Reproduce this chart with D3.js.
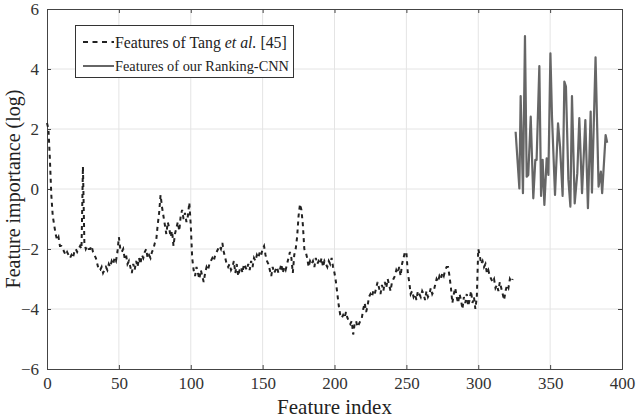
<!DOCTYPE html>
<html><head><meta charset="utf-8">
<script src="https://cdn.jsdelivr.net/npm/d3@7"></script>
<style>body{margin:0;background:#fff}svg{display:block}</style>
</head><body>
<script>
// Tang et al. feature importance (log), index 0..324
const tangValues = [
 2.2, 2.0, 1.0,-0.2,-0.9,-1.2,-1.5,-1.7,-1.6,-1.9,
-1.9,-2.0,-2.1,-2.2,-2.1,-2.2,-2.3,-2.2,-2.3,-2.1,
-2.0,-2.1,-2.0,-1.9,-2.0, 0.75,-1.8,-2.0,-1.9,-2.0,
-2.0,-1.9,-2.1,-2.2,-2.3,-2.5,-2.7,-2.7,-2.6,-2.8,
-2.7,-2.6,-2.7,-2.5,-2.6,-2.4,-2.5,-2.3,-2.4,-2.1,
-1.6,-2.0,-2.1,-2.0,-2.3,-2.2,-2.5,-2.4,-2.6,-2.8,
-2.5,-2.7,-2.4,-2.6,-2.3,-2.5,-2.2,-2.3,-2.1,-2.0,
-2.3,-2.2,-2.3,-2.1,-2.0,-1.8,-1.7,-1.2,-0.8,-0.2,
-0.6,-0.9,-1.2,-1.5,-1.1,-1.3,-1.6,-1.4,-1.9,-1.5,
-1.3,-1.1,-1.4,-0.9,-0.7,-1.0,-0.8,-1.1,-0.9,-0.45,
-1.2,-2.3,-2.7,-2.9,-2.6,-2.8,-3.0,-2.7,-2.9,-3.1,
-2.8,-2.6,-2.7,-2.5,-2.4,-2.3,-2.4,-2.2,-2.1,-2.0,
-1.9,-2.0,-1.8,-2.1,-2.3,-2.5,-2.6,-2.5,-2.7,-2.6,
-2.4,-2.8,-2.5,-2.9,-2.7,-2.6,-2.8,-2.5,-2.6,-2.7,
-2.5,-2.7,-2.4,-2.6,-2.3,-2.4,-2.2,-2.3,-2.1,-2.2,
-2.0,-1.9,-2.2,-2.4,-2.5,-2.7,-2.9,-2.6,-2.8,-2.7,
-2.6,-2.8,-2.7,-2.5,-2.8,-2.6,-2.7,-2.5,-2.3,-2.1,
-2.3,-2.8,-2.2,-2.0,-1.6,-0.9,-0.5,-0.7,-1.2,-2.0,
-2.1,-2.3,-2.6,-2.4,-2.5,-2.4,-2.6,-2.3,-2.5,-2.4,
-2.5,-2.3,-2.6,-2.4,-2.5,-2.6,-2.4,-2.5,-2.3,-2.6,
-2.8,-3.1,-3.5,-3.9,-4.2,-4.3,-4.2,-4.3,-4.1,-4.3,
-4.4,-4.5,-4.4,-4.85,-4.5,-4.4,-4.6,-4.5,-4.4,-4.3,
-4.0,-3.8,-4.1,-3.9,-3.6,-3.5,-3.6,-3.4,-3.5,-3.3,
-3.1,-3.3,-3.5,-3.2,-3.4,-3.1,-3.3,-3.0,-3.2,-3.4,
-3.1,-3.0,-2.9,-2.7,-2.8,-2.6,-2.9,-2.5,-2.3,-2.1,
-2.1,-2.8,-3.1,-3.5,-3.4,-3.6,-3.5,-3.7,-3.4,-3.5,
-3.6,-3.4,-3.5,-3.7,-3.4,-3.6,-3.5,-3.3,-3.5,-3.4,
-3.2,-3.0,-3.1,-2.9,-3.0,-2.8,-2.9,-2.7,-2.6,-2.6,
-2.9,-3.3,-3.8,-3.5,-3.3,-3.6,-3.8,-3.5,-3.7,-4.0,
-3.6,-3.8,-3.5,-3.9,-3.7,-3.4,-3.8,-3.6,-4.0,-3.6,
-2.0,-2.2,-2.5,-2.4,-2.6,-2.5,-2.8,-2.7,-2.9,-3.0,
-3.1,-3.0,-3.3,-3.2,-3.4,-3.1,-3.3,-3.5,-3.7,-3.4,
-3.2,-3.3,-3.0,-3.1,-3.0
];
// Ranking-CNN features: index and value
const oursIndex = [326,328.6,329.5,331.1,332.5,333.7,334.8,336.5,338.3,339.7,340.6,342.5,343.7,344.8,346,347.6,348.8,350.2,351.3,353.4,355.5,356.9,358.7,359.9,361,362.7,364.1,365.2,367.1,368.9,370.3,372.2,374.5,376.3,378.2,379.1,381.6,383.7,385.3,386.2,388.6,389.7];
const oursValues = [1.91,0.02,3.1,-0.14,5.1,0.41,0.47,2.41,-0.31,0.97,0.97,4.1,-0.23,0.97,-0.53,1.02,0.47,4.52,2.41,-0.2,2.19,1.41,-0.23,3.58,3.41,0.32,-0.59,3.1,-0.48,0.52,2.36,-0.14,2.3,-0.64,2.58,-0.12,4.39,0.08,0.58,-0.14,1.8,1.54];

const xTicks = [0,50,100,150,200,250,300,350,400];
const yTicks = [-6,-4,-2,0,2,4,6];
const seriesNames = ["Features of Tang ", "et al.", " [45]", "Features of our Ranking-CNN"];

const W = 640, H = 420;
const m = {l:47, r:18, t:9, b:51};
const svg = d3.select("body").append("svg").attr("width",W).attr("height",H);
const x = d3.scaleLinear().domain([0,400]).range([m.l, W-m.r]);
const y = d3.scaleLinear().domain([-6,6]).range([H-m.b, m.t]);
const font = "'Liberation Serif','Times New Roman',serif";

// grid
svg.append("g").selectAll("line").data(xTicks.slice(1,-1)).join("line")
  .attr("x1",d=>x(d)).attr("x2",d=>x(d)).attr("y1",y(-6)).attr("y2",y(6))
  .attr("stroke","#e4e4e4").attr("stroke-width",1);
svg.append("g").selectAll("line").data(yTicks.slice(1,-1)).join("line")
  .attr("y1",d=>y(d)).attr("y2",d=>y(d)).attr("x1",x(0)).attr("x2",x(400))
  .attr("stroke","#e4e4e4").attr("stroke-width",1);

// axes
const axB = svg.append("g").attr("transform",`translate(0,${y(-6)})`)
  .call(d3.axisBottom(x).tickValues(xTicks).tickSize(-4).tickPadding(8));
const axT = svg.append("g").attr("transform",`translate(0,${y(6)})`)
  .call(d3.axisTop(x).tickValues(xTicks).tickSize(-4).tickFormat(""));
const axL = svg.append("g").attr("transform",`translate(${x(0)},0)`)
  .call(d3.axisLeft(y).tickValues(yTicks).tickSize(-4).tickPadding(8));
const axR = svg.append("g").attr("transform",`translate(${x(400)},0)`)
  .call(d3.axisRight(y).tickValues(yTicks).tickSize(-4).tickFormat(""));
[axB,axT,axL,axR].forEach(a=>{
  a.select(".domain").attr("stroke","#444").attr("stroke-width",1);
  a.selectAll(".tick line").attr("stroke","#444");
  a.selectAll("text").attr("font-family",font).attr("font-size",17).attr("fill","#333");
});
axL.selectAll("text").attr("dy","0.32em");

// lines
const lineT = d3.line().x((d,i)=>x(i)).y(d=>y(d));
svg.append("path").datum(tangValues).attr("d",lineT)
  .attr("fill","none").attr("stroke","#222").attr("stroke-width",2)
  .attr("stroke-dasharray","4,4");
const lineO = d3.line().x(d=>x(d[0])).y(d=>y(d[1]));
svg.append("path").datum(oursIndex.map((v,i)=>[v,oursValues[i]])).attr("d",lineO)
  .attr("fill","none").attr("stroke","#666").attr("stroke-width",2.2)
  .attr("stroke-linejoin","round");

// axis titles
svg.append("text").attr("x",(x(0)+x(400))/2).attr("y",414).attr("text-anchor","middle")
  .attr("font-family",font).attr("font-size",21).attr("fill","#222").text("Feature index");
svg.append("text").attr("transform",`translate(20,${y(0)}) rotate(-90)`).attr("text-anchor","middle")
  .attr("font-family",font).attr("font-size",20).attr("fill","#222").text("Feature importance (log)");

// legend
const lg = svg.append("g");
lg.append("rect").attr("x",75.5).attr("y",25.5).attr("width",218).attr("height",52)
  .attr("fill","#fff").attr("stroke","#333").attr("stroke-width",1);
lg.append("line").attr("x1",83).attr("x2",114).attr("y1",42).attr("y2",42)
  .attr("stroke","#222").attr("stroke-width",2).attr("stroke-dasharray","5,4.5");
lg.append("line").attr("x1",83).attr("x2",114).attr("y1",66).attr("y2",66)
  .attr("stroke","#666").attr("stroke-width",2);
const t1 = lg.append("text").attr("x",115).attr("y",48).attr("font-family",font)
  .attr("font-size",18).attr("fill","#222");
t1.append("tspan").text(seriesNames[0]);
t1.append("tspan").attr("font-style","italic").text(seriesNames[1]);
t1.append("tspan").text(seriesNames[2]);
const len1 = t1.node().getComputedTextLength();
t1.attr("font-size", 18*172/len1);
const t2 = lg.append("text").attr("x",115).attr("y",71).attr("font-family",font)
  .attr("font-size",16).attr("fill","#222").text(seriesNames[3]);
const len2 = t2.node().getComputedTextLength();
t2.attr("font-size", 16*174/len2);
</script>
</body></html>
